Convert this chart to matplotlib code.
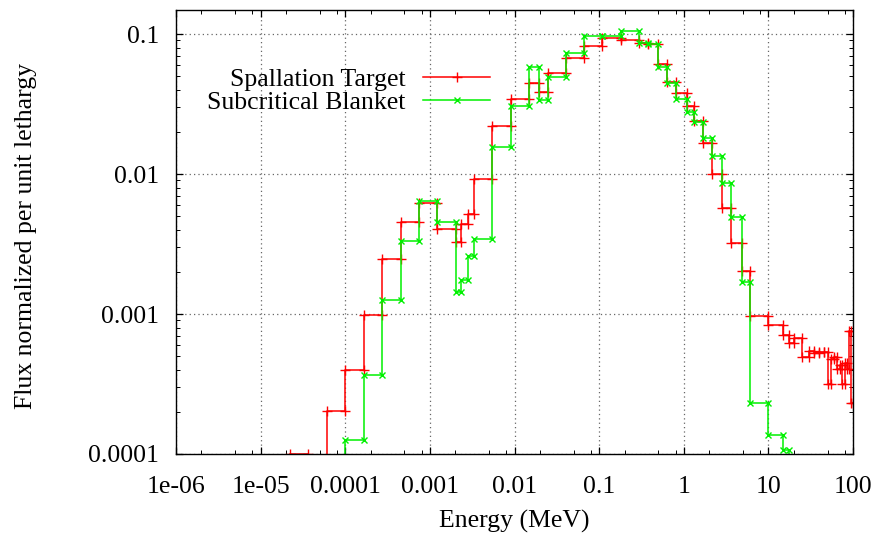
import numpy as np
import matplotlib
matplotlib.use('Agg')
import matplotlib.pyplot as plt
from matplotlib.ticker import LogLocator, FixedLocator, NullFormatter

# bin edges (MeV), shared by both spectra
energy_edges = [2.23e-5, 3.63e-5, 6.1e-5, 1.0e-4, 1.67e-4, 2.74e-4, 4.53e-4, 7.45e-4,
                1.23e-3, 2.04e-3, 2.32e-3, 2.81e-3, 3.36e-3, 5.48e-3, 9.04e-3, 1.49e-2,
                1.95e-2, 2.52e-2, 4.07e-2, 6.70e-2, 0.109, 0.181, 0.297, 0.383,
                0.502, 0.631, 0.813, 1.09, 1.33, 1.71, 2.18, 2.87,
                3.66, 4.86, 6.10, 10.0, 15.0, 17.3, 20.0, 25.0,
                30.0, 35.0, 40.0, 45.0, 50.0, 55.0, 60.0, 65.0,
                70.0, 75.0, 80.0, 85.0, 90.0, 95.0, 100.0]

# flux per unit lethargy, one value per bin
spallation_target = [1.0e-4, 7.0e-5, 2.04e-4, 3.98e-4, 9.84e-4, 2.46e-3, 4.54e-3, 6.18e-3,
                     4.05e-3, 3.28e-3, 4.40e-3, 5.18e-3, 9.17e-3, 2.20e-2, 3.42e-2, 4.45e-2,
                     3.84e-2, 5.24e-2, 6.77e-2, 8.21e-2, 9.29e-2, 9.06e-2, 8.58e-2, 8.55e-2,
                     6.10e-2, 4.56e-2, 3.81e-2, 3.06e-2, 2.41e-2, 1.66e-2, 9.95e-3, 5.72e-3,
                     3.24e-3, 2.04e-3, 9.68e-4, 8.28e-4, 7.08e-4, 6.24e-4, 6.77e-4, 4.91e-4,
                     5.44e-4, 5.26e-4, 5.35e-4, 5.37e-4, 3.16e-4, 4.77e-4, 4.93e-4, 4.05e-4,
                     4.30e-4, 3.16e-4, 4.47e-4, 4.05e-4, 7.50e-4, 2.30e-4]

nan = np.nan
subcritical_blanket = [nan, nan, 5.0e-5, 1.26e-4, 3.67e-4, 1.26e-3, 3.34e-3, 6.45e-3,
                       4.52e-3, 1.43e-3, 1.75e-3, 2.60e-3, 3.43e-3, 1.57e-2, 3.06e-2, 5.84e-2,
                       3.35e-2, 4.97e-2, 7.28e-2, 9.67e-2, 9.60e-2, 0.1056, 8.58e-2, 8.53e-2,
                       5.78e-2, 4.47e-2, 3.43e-2, 2.79e-2, 2.35e-2, 1.82e-2, 1.34e-2, 8.63e-3,
                       4.96e-3, 1.68e-3, 2.32e-4, 1.37e-4, 1.06e-4, 5.0e-5, nan, nan,
                       nan, nan, nan, nan, nan, nan, nan, nan,
                       nan, nan, nan, nan, nan, nan]

xticks = [1e-6, 1e-5, 1e-4, 1e-3, 1e-2, 1e-1, 1, 10, 100]
xticklabels = ['1e-06', '1e-05', '0.0001', '0.001', '0.01', '0.1', '1', '10', '100']
yticks = [1e-4, 1e-3, 1e-2, 1e-1]
yticklabels = ['0.0001', '0.001', '0.01', '0.1']


def step_points(edges, values):
    #each bin becomes two points (low edge, high edge) at the same flux
    xs, ys = [], []
    for i, v in enumerate(values):
        xs += [edges[i], edges[i + 1]]
        ys += [v, v]
    return np.array(xs), np.array(ys)


plt.rcParams['font.family'] = ['Liberation Serif', 'DejaVu Serif']
fs = 18.5

fig = plt.figure(figsize=(8.76, 5.36), dpi=100)
ax = fig.add_axes([176/876, 82/536, 677/876, 444/536])

x, y = step_points(energy_edges, spallation_target)
ax.plot(x, y, color='#ff0000', marker='+', markersize=6.5, markeredgewidth=1.0,
        linewidth=1.1, label='Spallation Target')
x, y = step_points(energy_edges, subcritical_blanket)
ax.plot(x, y, color='#00f000', marker='x', markersize=4.5, markeredgewidth=1.0,
        linewidth=1.1, label='Subcritical Blanket')

ax.set_xscale('log')
ax.set_yscale('log')
ax.set_xlim(1e-6, 100)
ax.set_ylim(1e-4, 0.1484)

ax.xaxis.set_major_locator(FixedLocator(xticks))
ax.set_xticklabels(xticklabels)
ax.xaxis.set_minor_locator(LogLocator(base=10, subs=(2, 5, 8), numticks=20))
ax.xaxis.set_minor_formatter(NullFormatter())
ax.yaxis.set_major_locator(FixedLocator(yticks))
ax.set_yticklabels(yticklabels)
ax.yaxis.set_minor_locator(LogLocator(base=10, subs=np.arange(2, 10), numticks=20))
ax.yaxis.set_minor_formatter(NullFormatter())

ax.tick_params(which='both', direction='in', top=True, right=True, labelsize=fs)
ax.tick_params(which='major', length=5, width=0.9)
ax.tick_params(which='minor', length=3, width=0.7)
ax.tick_params(axis='x', which='major', pad=15.5)
ax.tick_params(axis='y', which='major', pad=12)

ax.grid(which='major', color='#666666', linestyle=(0, (1, 2.5)), linewidth=0.9)
for s in ax.spines.values():
    s.set_linewidth(1.0)

ax.set_xlabel('Energy (MeV)', fontsize=fs)
ax.set_ylabel('Flux normalized per unit lethargy', fontsize=fs)
ax.xaxis.set_label_coords(0.5, -0.125)
ax.yaxis.set_label_coords(-0.205, 0.49)

ax.legend(loc='center right', bbox_to_anchor=(0.4638, 0.8176), frameon=False,
          markerfirst=False, fontsize=fs, handlelength=2.6, handletextpad=0.7,
          labelspacing=0.03, borderpad=0, borderaxespad=0)

plt.savefig('out.png', dpi=100)
